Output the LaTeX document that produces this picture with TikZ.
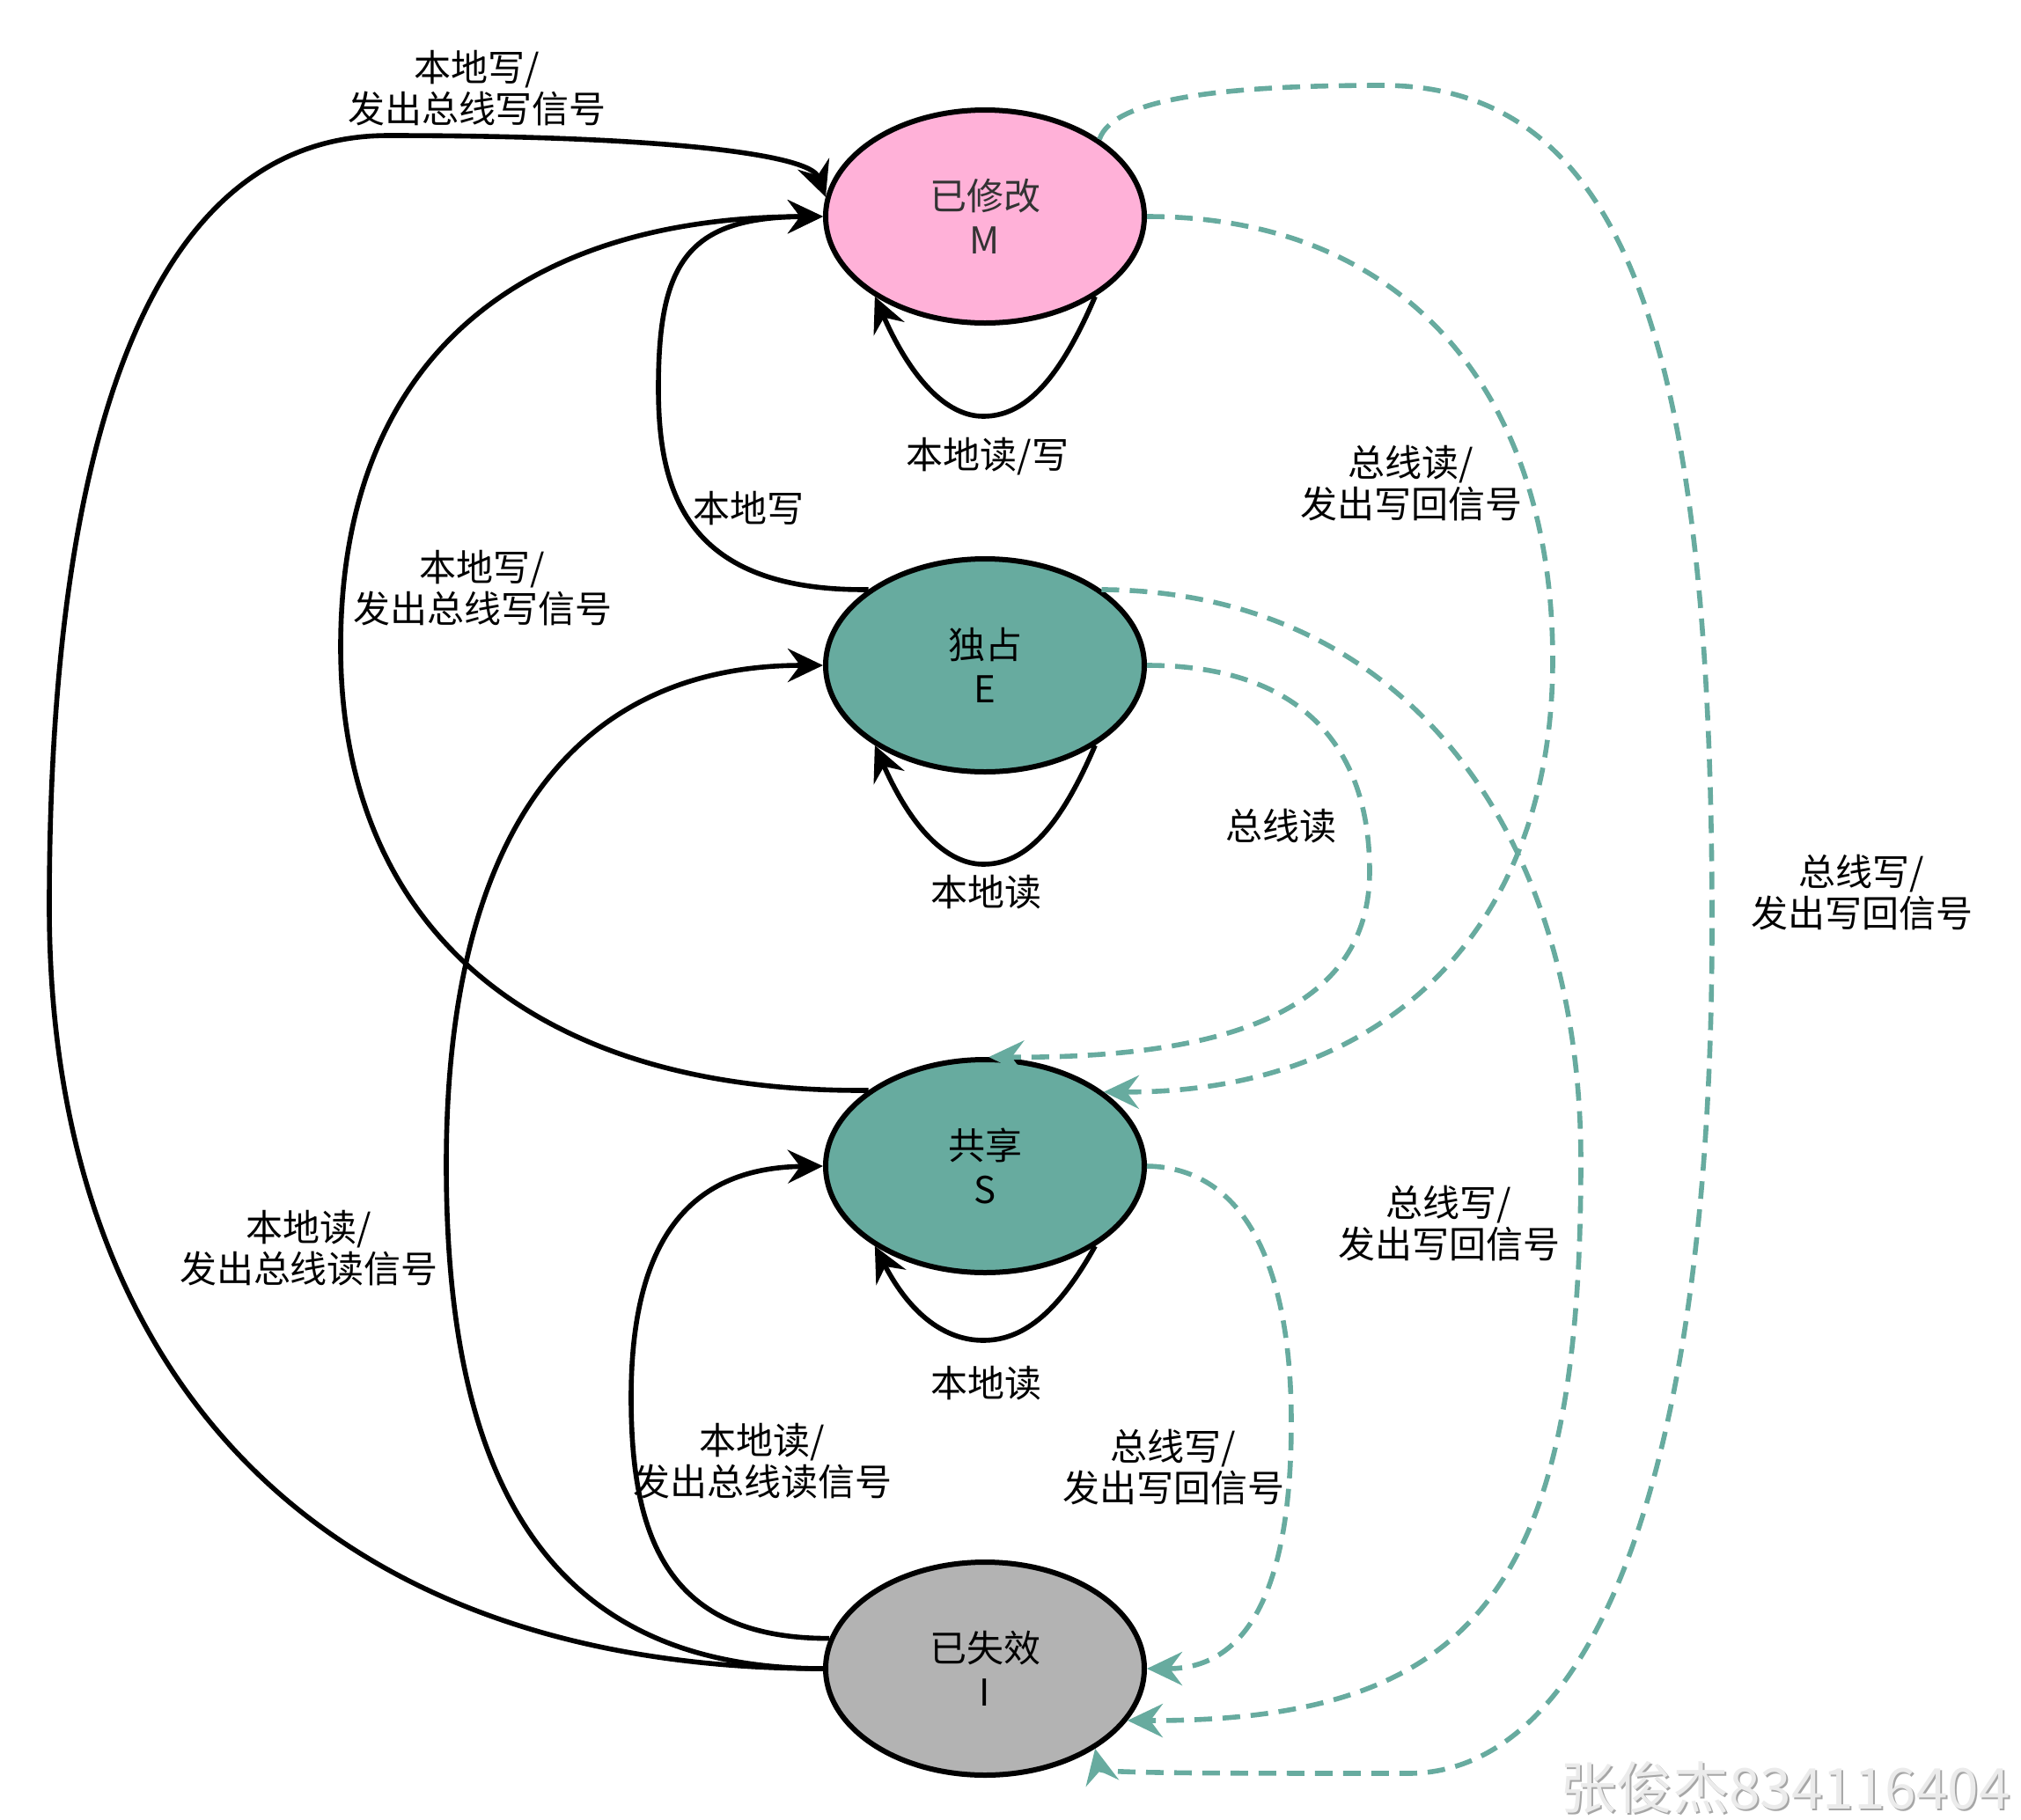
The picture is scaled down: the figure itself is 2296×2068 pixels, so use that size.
\documentclass[tikz,border=0pt]{standalone}
\usepackage{fontspec}
\setmainfont{Noto Sans CJK SC}
\usetikzlibrary{arrows.meta,shapes.geometric}
\definecolor{mpink}{HTML}{FFB1D8}
\definecolor{tealg}{HTML}{67AB9F}
\definecolor{igray}{HTML}{B3B3B3}
\newcommand\lblfont{\fontsize{10.5}{11.9}\selectfont}
\begin{document}
\begin{tikzpicture}[x=0.25pt,y=-0.25pt,
  state/.style={ellipse,draw=black,line width=1.5pt,minimum width=90.5pt,minimum height=60.5pt,inner sep=0pt,align=center,font=\fontsize{10.5}{12.4}\selectfont},
  lbl/.style={align=center,inner sep=0pt,font=\lblfont},
  localedge/.style={draw=black,line width=1.4pt,-{Stealth[length=10pt,width=9.5pt,inset=3.5pt]}},
  busedge/.style={draw=tealg,line width=1.4pt,dash pattern=on 5pt off 3pt,-{Stealth[length=10pt,width=9.5pt,inset=3.5pt,fill=tealg]}}]
\useasboundingbox (0,0) rectangle (2296,2068);
% states
\node[state,fill=mpink,text=black!80] (M) at (1119,246) {已修改\\M};
\node[state,fill=tealg] (E) at (1119,756) {独占\\E};
\node[state,fill=tealg] (S) at (1119,1325) {共享\\S};
\node[state,fill=igray] (I) at (1119,1896) {已失效\\I};
% local (solid) transitions
\draw[localedge] (I.west) .. controls (350,1896) and (56,1550) .. (56,1030) .. controls (56,500) and (170,154) .. (441,154) .. controls (750,154) and (920,175) .. (M.173);
\draw[localedge] (S.147) .. controls (600,1242) and (387,1050) .. (387,735) .. controls (387,400) and (600,247) .. (M.west);
\draw[localedge] (E.147) .. controls (780,672) and (748,560) .. (748,441) .. controls (748,300) and (780,247) .. (M.west);
\draw[localedge] (M.324) .. controls (1200,440) and (1160,473) .. (1117,473) .. controls (1075,473) and (1035,430) .. (M.216);
\draw[localedge] (I.west) .. controls (600,1896) and (507,1650) .. (507,1323) .. controls (507,950) and (650,756) .. (E.west);
\draw[localedge] (E.324) .. controls (1200,950) and (1160,982) .. (1117,982) .. controls (1075,982) and (1035,940) .. (E.216);
\draw[localedge] (I.169) .. controls (760,1862) and (717,1750) .. (717,1588) .. controls (717,1400) and (790,1327) .. (S.west);
\draw[localedge] (S.324) .. controls (1200,1495) and (1160,1523) .. (1117,1523) .. controls (1075,1523) and (1035,1495) .. (S.216);
% bus (dashed) transitions
\draw[busedge] (M.34) .. controls (1265,110) and (1400,97) .. (1570,97) .. controls (1850,97) and (1945,400) .. (1945,1050) .. controls (1945,1700) and (1800,2015) .. (1600,2015) .. controls (1400,2015) and (1250,2015) .. (I.324);
\draw[busedge] (M.east) .. controls (1600,246) and (1764,450) .. (1764,750) .. controls (1764,1050) and (1580,1242) .. (S.32);
\draw[busedge] (E.33) .. controls (1600,672) and (1796,950) .. (1796,1320) .. controls (1796,1800) and (1680,1956) .. (I.340);
\draw[busedge] (E.east) .. controls (1480,756) and (1556,850) .. (1556,990) .. controls (1556,1130) and (1430,1203) .. (S.88);
\draw[busedge] (S.east) .. controls (1420,1327) and (1467,1450) .. (1467,1616) .. controls (1467,1800) and (1420,1896) .. (I.east);
% labels
\node[lbl] (l1) at (542,100) {本地写/\\发出总线写信号};
\node[lbl] (l2) at (548,668) {本地写/\\发出总线写信号};
\node[lbl] (l3) at (850,578) {本地写};
\node[lbl] (lM) at (1122,519) {本地读/写};
\node[lbl] (l5) at (351,1418) {本地读/\\发出总线读信号};
\node[lbl] (lE) at (1120,1014) {本地读};
\node[lbl] (l7) at (866,1660) {本地读/\\发出总线读信号};
\node[lbl] (lS) at (1120,1572) {本地读};
\node[lbl] (l9) at (2115,1014) {总线写/\\发出写回信号};
\node[lbl] (l10) at (1603,549) {总线读/\\发出写回信号};
\node[lbl] (l11) at (1646,1390) {总线写/\\发出写回信号};
\node[lbl] (l12) at (1455,939) {总线读};
\node[lbl] (l13) at (1333,1667) {总线写/\\发出写回信号};
% watermark
\node[inner sep=0pt,font=\fontsize{16}{16}\selectfont,text=black!35] (wms) at (2030,2033) {张俊杰834116404};
\node[inner sep=0pt,font=\fontsize{16}{16}\selectfont,text=black!8] (wm) at (2028,2031) {张俊杰834116404};
\end{tikzpicture}
\end{document}
